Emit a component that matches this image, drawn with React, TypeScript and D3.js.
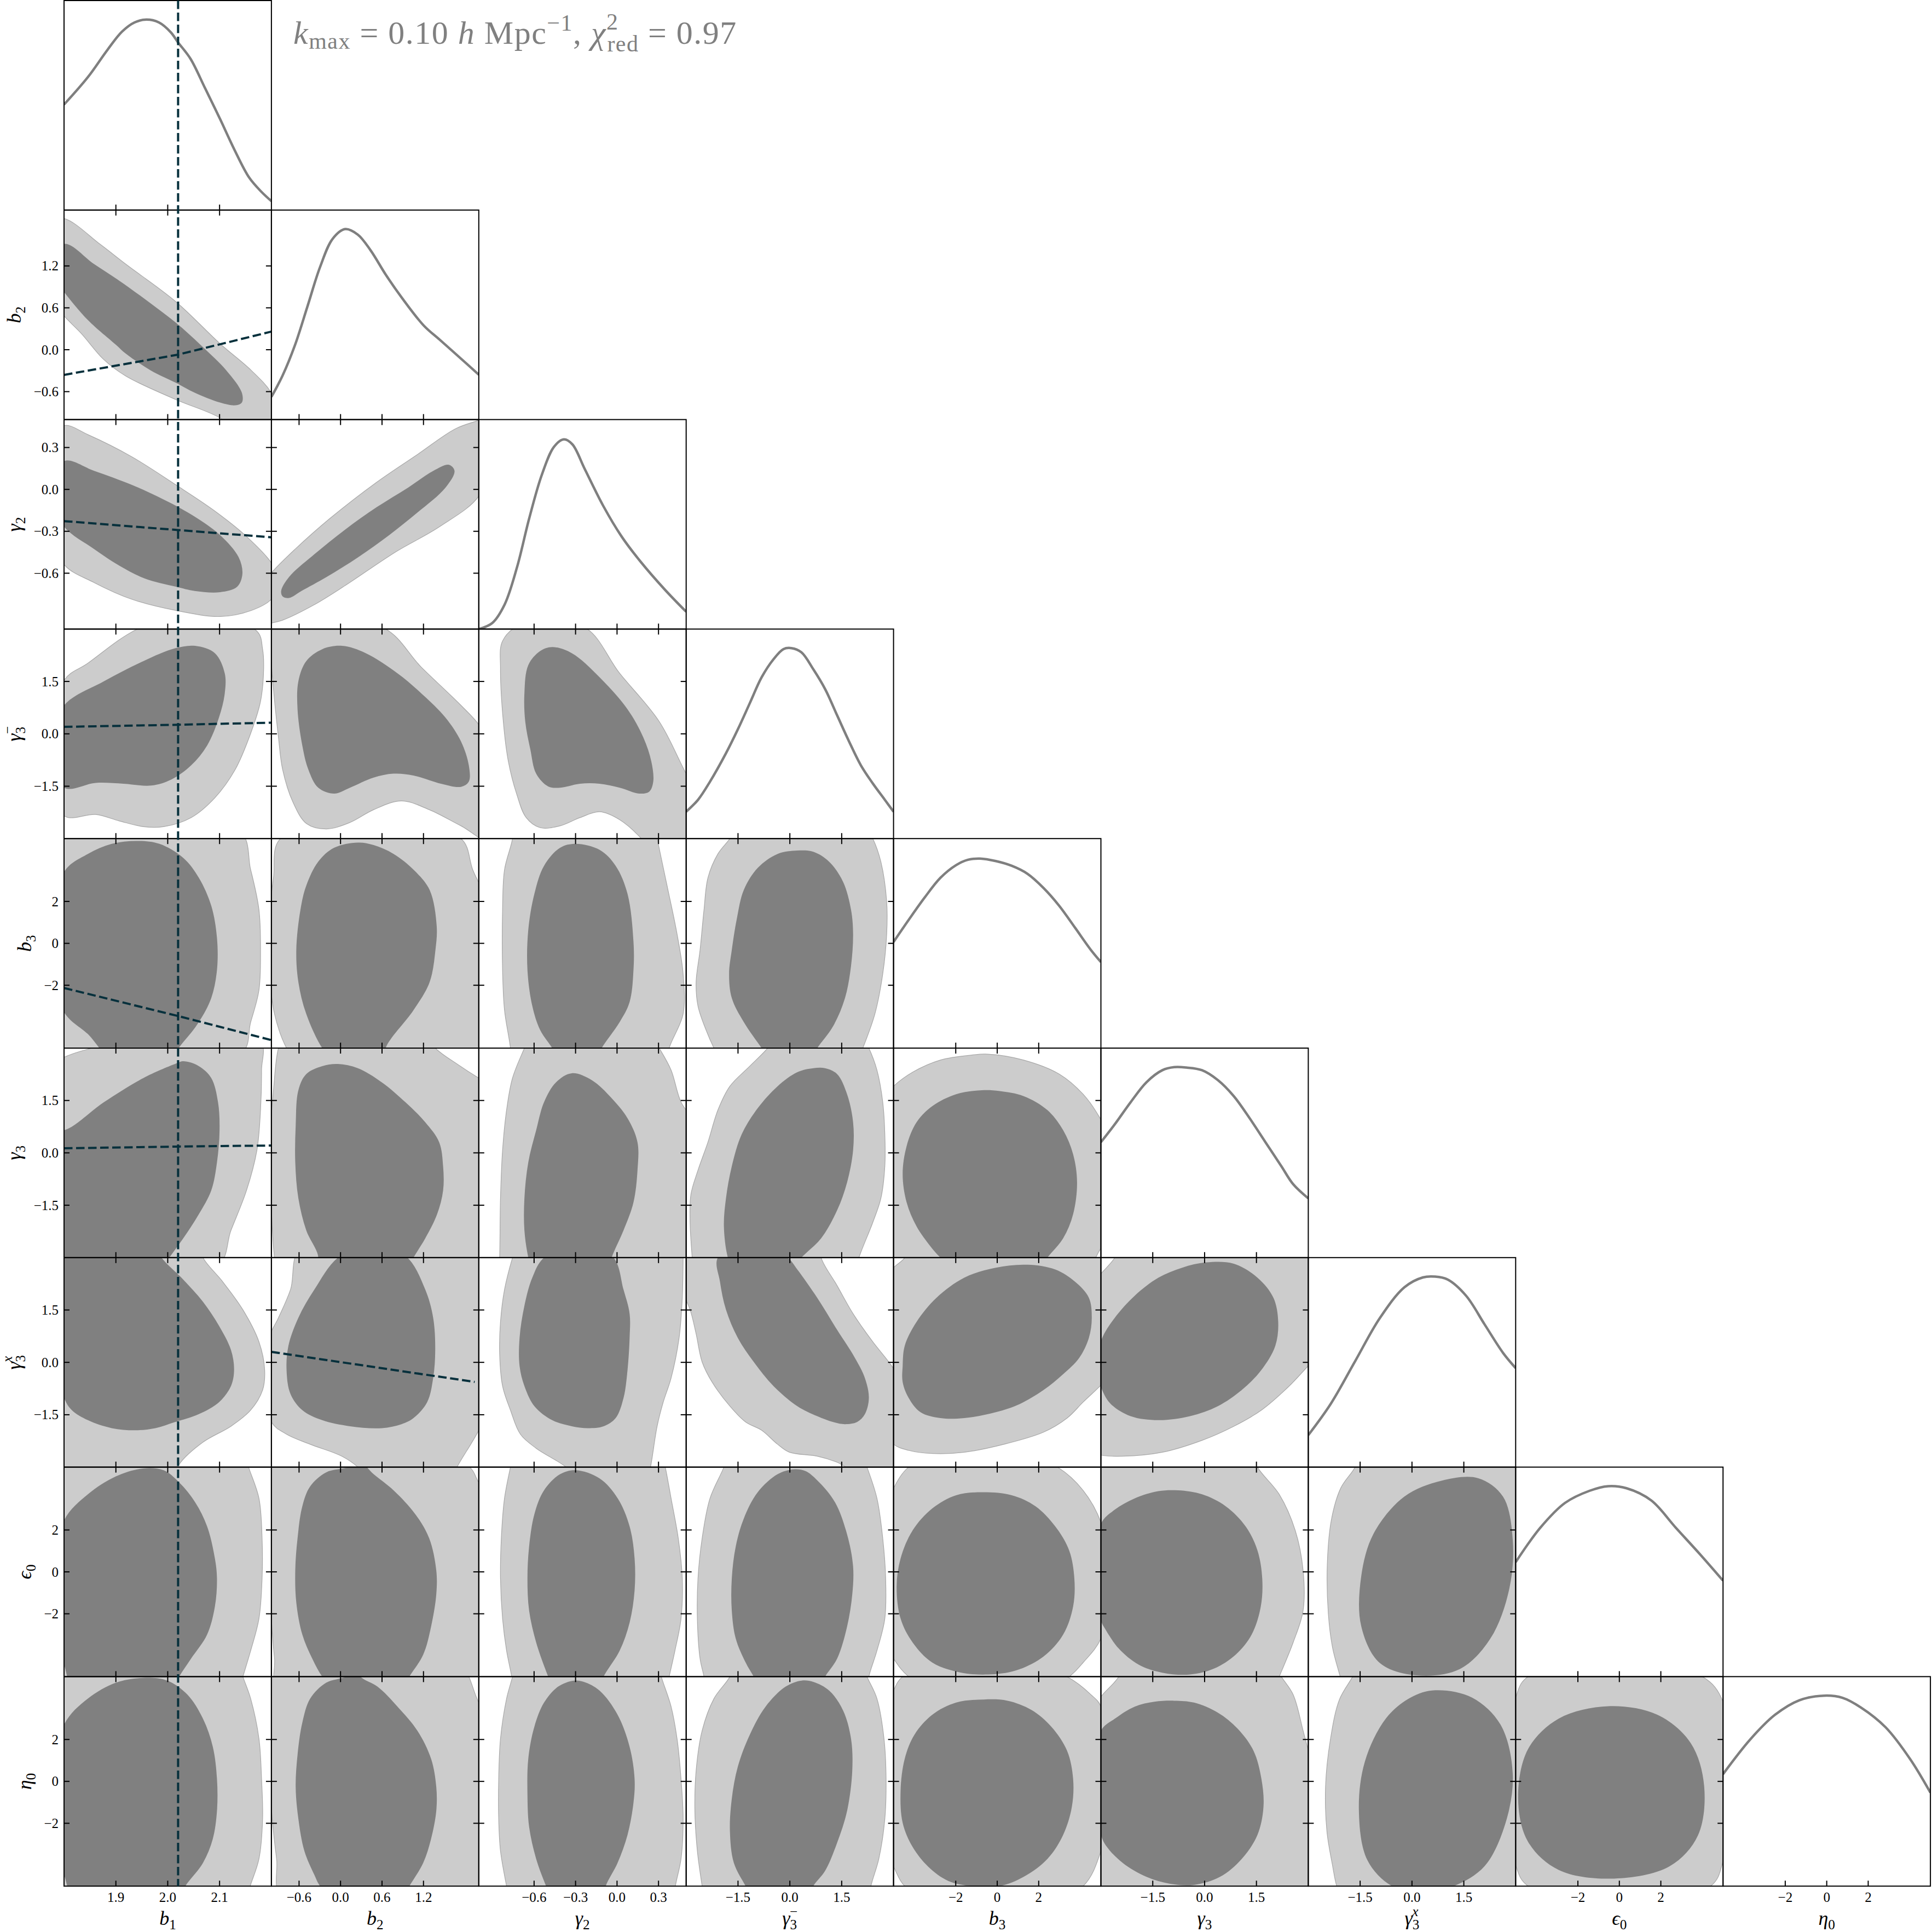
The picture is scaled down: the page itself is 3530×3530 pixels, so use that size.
import React from "react";
import * as d3 from "d3";

// ---------------- parameters / axes ----------------
const PARAM_KEYS = ["b1", "b2", "g2", "g3m", "b3", "g3", "g3x", "e0", "eta0"];
const LABEL_MAIN = ["b", "b", "γ", "γ", "b", "γ", "γ", "ϵ", "η"];
const LABEL_SUB = ["1", "2", "2", "3", "3", "3", "3", "0", "0"];
const LABEL_SUP = ["", "", "", "−", "", "", "x", "", ""];
const DOMAINS: [number, number][] = [
  [1.8, 2.2], [-1, 2], [-1, 0.5], [-3, 3], [-5, 5], [-3, 3], [-3, 3], [-5, 5], [-5, 5],
];
const TICKS: number[][] = [
  [1.9, 2.0, 2.1], [-0.6, 0, 0.6, 1.2], [-0.6, -0.3, 0, 0.3], [-1.5, 0, 1.5], [-2, 0, 2],
  [-1.5, 0, 1.5], [-1.5, 0, 1.5], [-2, 0, 2], [-2, 0, 2],
];
const TICK_FORMATS = [".1f", ".1f", ".1f", ".1f", ".0f", ".1f", ".1f", ".0f", ".0f"];

// ---------------- 1D marginals: [value, relative density] ----------------
const PDF_B1 = [[1.8,0.554],[1.846,0.698],[1.884,0.842],[1.912,0.937],[1.936,0.985],[1.959,1.0],[1.983,0.985],[2.006,0.933],[2.02,0.88],[2.044,0.794],[2.072,0.64],[2.101,0.478],[2.129,0.315],[2.157,0.171],[2.181,0.095],[2.2,0.047]];
const PDF_B2 = [[-1,0.119],[-0.841,0.229],[-0.659,0.391],[-0.477,0.596],[-0.295,0.802],[-0.114,0.949],[0.068,1.0],[0.25,0.971],[0.432,0.89],[0.659,0.758],[0.886,0.64],[1.205,0.493],[1.432,0.42],[1.705,0.332],[2.0,0.236]];
const PDF_G2 = [[-1,0.0],[-0.902,0.032],[-0.813,0.129],[-0.724,0.323],[-0.635,0.582],[-0.545,0.808],[-0.456,0.957],[-0.385,0.996],[-0.323,0.97],[-0.234,0.841],[-0.1,0.647],[0.034,0.485],[0.168,0.356],[0.346,0.207],[0.5,0.091]];
const PDF_G3M = [[-3,0.141],[-2.655,0.204],[-2.31,0.299],[-1.851,0.447],[-1.506,0.573],[-1.161,0.71],[-0.816,0.847],[-0.471,0.942],[-0.184,0.995],[0.046,1.0],[0.333,0.978],[0.678,0.889],[1.023,0.784],[1.368,0.647],[1.713,0.51],[2.057,0.384],[2.402,0.289],[2.747,0.204],[3.0,0.141]];
const PDF_B3 = [[-5,0.557],[-4.27,0.673],[-3.51,0.789],[-2.74,0.894],[-1.98,0.961],[-1.41,0.989],[-0.83,0.995],[-0.07,0.982],[0.7,0.957],[1.46,0.915],[2.23,0.841],[2.99,0.747],[3.76,0.631],[4.52,0.515],[5,0.452]];
const PDF_G3 = [[-3,0.606],[-2.598,0.7],[-2.14,0.816],[-1.681,0.921],[-1.222,0.984],[-0.878,1.0],[-0.533,0.998],[-0.075,0.984],[0.384,0.932],[0.843,0.848],[1.302,0.732],[1.761,0.606],[2.22,0.48],[2.564,0.385],[3.0,0.311]];
const PDF_G3X = [[-3,0.168],[-2.358,0.33],[-1.645,0.556],[-0.932,0.782],[-0.219,0.944],[0.316,0.996],[0.672,1.0],[1.029,0.985],[1.564,0.9],[2.099,0.75],[2.634,0.6],[3.0,0.52]];
const PDF_E0 = [[-5,0.601],[-3.81,0.782],[-2.62,0.912],[-1.43,0.976],[-0.54,1.0],[0.35,0.989],[1.54,0.925],[2.72,0.782],[3.91,0.64],[5,0.504]];
const PDF_ETA0 = [[-5,0.588],[-3.69,0.77],[-2.5,0.899],[-1.32,0.976],[-0.13,1.0],[0.76,0.989],[1.65,0.938],[2.84,0.834],[4.03,0.666],[5,0.491]];
const PDFS = [PDF_B1, PDF_B2, PDF_G2, PDF_G3M, PDF_B3, PDF_G3, PDF_G3X, PDF_E0, PDF_ETA0];

// ---------------- 2D credible regions: [x, y] in parameter units ----------------
const C_B2_B1_OUT = [[1.8,1.88],[1.87,1.508],[1.919,1.226],[2.016,0.686],[2.101,0.086],[2.161,-0.295],[2.2,-0.616],[2.232,-1.15],[2.16,-1.3],[2.101,-0.976],[2.016,-0.715],[1.919,-0.376],[1.876,-0.136],[1.834,0.227],[1.8,0.485],[1.76,0.86],[1.76,1.85]];
const C_B2_B1_IN = [[1.8,1.514],[1.858,1.226],[1.907,0.986],[1.967,0.665],[2.016,0.386],[2.064,0.065],[2.113,-0.295],[2.143,-0.616],[2.143,-0.757],[2.131,-0.796],[2.101,-0.757],[2.052,-0.616],[2.016,-0.475],[1.967,-0.295],[1.919,-0.055],[1.901,0.065],[1.846,0.425],[1.8,0.827],[1.768,1.16]];
const C_G2_B1_OUT = [[1.8,0.458],[1.846,0.392],[1.931,0.233],[2.016,0.032],[2.088,-0.147],[2.149,-0.327],[2.2,-0.526],[2.216,-0.655],[2.2,-0.786],[2.161,-0.867],[2.101,-0.91],[2.016,-0.867],[1.931,-0.787],[1.858,-0.667],[1.8,-0.538],[1.768,-0.25],[1.768,0.35]];
const C_G2_B1_IN = [[1.8,0.203],[1.858,0.133],[1.931,0.032],[1.979,-0.048],[2.04,-0.168],[2.101,-0.327],[2.137,-0.487],[2.144,-0.607],[2.134,-0.697],[2.101,-0.736],[2.052,-0.727],[2.016,-0.697],[1.955,-0.637],[1.907,-0.547],[1.858,-0.427],[1.8,-0.267],[1.768,-0.025]];
const C_G2_B2_OUT = [[-1,-0.597],[-0.655,-0.427],[-0.154,-0.208],[0.524,0.052],[1.115,0.251],[1.658,0.433],[2.0,0.496],[2.15,0.53],[2.15,0.2],[2.0,-0.048],[1.433,-0.267],[0.8,-0.447],[0.071,-0.687],[-0.382,-0.826],[-0.838,-0.936],[-1,-0.957],[-1.15,-0.97],[-1.15,-0.7]];
const C_G2_B2_IN = [[-0.859,-0.727],[-0.745,-0.627],[-0.382,-0.466],[0.071,-0.286],[0.524,-0.127],[0.98,0.014],[1.343,0.133],[1.568,0.176],[1.649,0.133],[1.52,0.014],[1.112,-0.166],[0.704,-0.327],[0.251,-0.487],[-0.202,-0.627],[-0.565,-0.727],[-0.745,-0.777],[-0.838,-0.766]];
const C_G3M_B1_OUT = [[1.8,1.53],[1.846,2.022],[1.938,2.976],[2.04,3.48],[2.172,2.94],[2.183,2.424],[2.185,1.848],[2.179,0.93],[2.16,0.012],[2.13,-1.026],[2.091,-1.83],[2.045,-2.4],[1.992,-2.658],[1.953,-2.658],[1.907,-2.496],[1.861,-2.31],[1.8,-2.346],[1.768,-0.6]];
const C_G3M_B1_IN = [[1.8,0.816],[1.877,1.506],[1.953,2.082],[2.014,2.448],[2.053,2.52],[2.091,2.31],[2.11,1.734],[2.11,1.158],[2.099,0.474],[2.076,-0.336],[2.045,-0.906],[2.007,-1.308],[1.968,-1.482],[1.915,-1.428],[1.861,-1.404],[1.8,-1.542],[1.768,-0.36]];
const C_G3M_B2_OUT = [[-0.982,3.228],[0.596,3.06],[1.169,1.908],[1.742,0.816],[2.0,0.264],[2.201,-0.45],[2.201,-3.09],[1.742,-2.634],[1.283,-2.172],[0.881,-1.92],[0.479,-2.172],[0.137,-2.538],[-0.202,-2.724],[-0.49,-2.574],[-0.691,-1.944],[-0.838,-1.02],[-0.898,-0.102],[-0.97,1.278],[-1.012,2.538]];
const C_G3M_B2_IN = [[-0.61,1.506],[-0.496,2.082],[-0.265,2.424],[0.023,2.52],[0.365,2.31],[0.824,1.734],[1.169,1.158],[1.514,0.474],[1.742,-0.216],[1.856,-0.906],[1.856,-1.368],[1.742,-1.518],[1.454,-1.428],[1.055,-1.194],[0.767,-1.14],[0.479,-1.254],[0.137,-1.542],[-0.094,-1.71],[-0.322,-1.542],[-0.466,-1.02],[-0.553,-0.336],[-0.622,0.702]];
const C_G3M_G2_OUT = [[-0.828,2.658],[-0.699,3.114],[-0.24,3.06],[0.019,1.734],[0.305,0.354],[0.5,-1.14],[0.65,-2.172],[0.305,-3.666],[0.176,-3.0],[0.019,-2.46],[-0.126,-2.232],[-0.268,-2.4],[-0.412,-2.634],[-0.556,-2.688],[-0.657,-2.4],[-0.727,-1.71],[-0.786,-0.792],[-0.82,0.24],[-0.843,1.848]];
const C_G3M_G2_IN = [[-0.67,1.158],[-0.642,1.968],[-0.556,2.37],[-0.469,2.484],[-0.327,2.31],[-0.126,1.62],[0.076,0.702],[0.19,-0.102],[0.248,-0.792],[0.262,-1.368],[0.233,-1.656],[0.161,-1.71],[0.019,-1.542],[-0.126,-1.428],[-0.268,-1.428],[-0.412,-1.542],[-0.498,-1.506],[-0.585,-1.14],[-0.627,-0.45],[-0.664,0.354]];
const C_B3_B1_OUT = [[1.72,6.3],[2.137,5.42],[2.16,3.51],[2.176,1.6],[2.179,-0.32],[2.176,-2.23],[2.16,-3.76],[2.141,-5.29],[1.72,-6.3],[1.66,0]];
const C_B3_B1_IN = [[1.8,3.41],[1.846,4.27],[1.892,4.75],[1.942,4.89],[1.984,4.75],[2.03,4.08],[2.06,3.13],[2.084,1.79],[2.095,0.26],[2.095,-1.27],[2.084,-2.61],[2.06,-3.76],[2.03,-4.71],[1.999,-5.48],[1.892,-5.48],[1.846,-4.33],[1.8,-3.28],[1.769,-0.32]];
const C_B3_B2_OUT = [[-0.868,5.0],[-0.97,3.13],[-1.03,1.21],[-1.03,-1.27],[-0.955,-3.37],[-0.781,-5.0],[-0.553,-6.05],[1.742,-6.05],[2.087,-4.52],[2.144,1.6],[1.913,3.51],[1.742,5.0],[0.584,5.8]];
const C_B3_B2_IN = [[0.251,4.81],[-0.094,4.56],[-0.322,3.9],[-0.496,2.75],[-0.58,1.6],[-0.64,-0.32],[-0.61,-1.85],[-0.496,-3.37],[-0.265,-5.0],[-0.1,-5.6],[0.65,-5.6],[0.653,-5.0],[1.058,-3.18],[1.289,-1.85],[1.373,-0.32],[1.391,0.83],[1.289,2.55],[1.058,3.51],[0.767,4.27],[0.479,4.69]];
const C_B3_G2_OUT = [[-0.756,5.0],[-0.814,3.51],[-0.828,1.6],[-0.828,-1.27],[-0.814,-3.18],[-0.771,-5.0],[-0.76,-6.0],[0.35,-6.0],[0.377,-5.0],[0.478,-3.37],[0.478,-1.46],[0.434,0.45],[0.362,2.75],[0.29,5.0],[0.26,6.0],[-0.745,6.0]];
const C_B3_G2_IN = [[-0.298,4.75],[-0.412,4.56],[-0.528,3.7],[-0.598,2.36],[-0.642,0.64],[-0.648,-1.27],[-0.613,-2.99],[-0.556,-4.14],[-0.469,-5.0],[-0.43,-5.5],[-0.145,-5.5],[-0.111,-5.0],[0.019,-3.76],[0.091,-2.8],[0.119,-1.27],[0.119,0.07],[0.076,2.36],[-0.01,3.7],[-0.126,4.46]];
const C_B3_G3M_OUT = [[-1.506,5.61],[-1.734,5.0],[-2.082,4.27],[-2.37,3.13],[-2.484,1.6],[-2.598,-0.32],[-2.712,-1.85],[-2.658,-2.99],[-2.424,-4.14],[-2.196,-5.0],[-1.968,-5.67],[1.944,-5.67],[2.112,-5.0],[2.46,-3.37],[2.688,-1.46],[2.802,0.45],[2.802,1.98],[2.634,3.89],[2.4,5.0],[2.172,5.61]];
const C_B3_G3M_IN = [[0.216,4.43],[-0.354,4.27],[-0.93,3.6],[-1.332,2.55],[-1.53,1.21],[-1.68,-0.32],[-1.758,-1.46],[-1.68,-2.61],[-1.332,-3.76],[-0.816,-5.0],[-0.6,-5.5],[0.6,-5.5],[0.792,-5.0],[1.254,-3.95],[1.596,-2.61],[1.77,-1.08],[1.83,0.45],[1.77,1.6],[1.542,2.93],[1.14,3.89],[0.678,4.37]];
const C_G3_B1_OUT = [[1.8,2.736],[1.854,3.0],[2.03,3.516],[2.179,3.174],[2.181,2.37],[2.179,1.224],[2.172,0.072],[2.152,-1.074],[2.122,-2.22],[2.095,-3.252],[1.762,-3.366],[1.762,2.37]];
const C_G3_B1_IN = [[1.8,0.648],[1.877,1.452],[1.953,2.142],[2.014,2.544],[2.03,2.622],[2.06,2.484],[2.084,2.142],[2.097,1.452],[2.1,0.648],[2.095,-0.27],[2.084,-1.074],[2.06,-1.758],[2.03,-2.448],[2.003,-3.0],[1.98,-3.48],[1.769,-3.48],[1.769,0.72]];
const C_G3_B2_OUT = [[-0.898,3.0],[-0.97,1.794],[-1.03,0.072],[-1.0,-1.644],[-0.955,-3.0],[-0.898,-3.594],[2.315,-3.594],[2.315,1.794],[2.0,2.142],[1.685,2.544],[1.37,3.0],[1.169,3.516],[-0.781,3.516]];
const C_G3_B2_IN = [[-0.61,1.794],[-0.496,2.256],[-0.265,2.484],[-0.037,2.544],[0.251,2.424],[0.596,2.022],[0.938,1.452],[1.226,0.876],[1.427,0.306],[1.484,-0.384],[1.484,-1.074],[1.397,-1.758],[1.226,-2.448],[1.055,-3.0],[0.92,-3.48],[-0.4,-3.48],[-0.322,-3.0],[-0.496,-2.22],[-0.61,-1.302],[-0.655,-0.27],[-0.649,0.762]];
const C_G3_G2_OUT = [[-0.613,3.516],[-0.67,3.0],[-0.756,2.142],[-0.799,1.224],[-0.828,0.072],[-0.843,-1.302],[-0.849,-3.0],[-0.856,-3.594],[0.649,-3.594],[0.592,0.648],[0.463,1.452],[0.391,2.37],[0.305,3.0],[0.22,3.516]];
const C_G3_G2_IN = [[-0.327,2.28],[-0.441,2.022],[-0.528,1.452],[-0.585,0.648],[-0.642,-0.27],[-0.67,-1.302],[-0.67,-2.22],[-0.642,-3.0],[-0.61,-3.48],[-0.07,-3.48],[-0.039,-3.0],[0.047,-2.22],[0.119,-1.416],[0.148,-0.498],[0.148,0.306],[0.076,0.99],[-0.039,1.566],[-0.183,2.082]];
const C_G3_G3M_OUT = [[-0.354,3.402],[-0.642,3.0],[-1.158,2.484],[-1.734,1.908],[-2.082,1.224],[-2.37,0.306],[-2.658,-0.498],[-2.862,-1.188],[-2.886,-1.992],[-2.826,-3.0],[-2.772,-3.594],[1.83,-3.594],[1.998,-3.0],[2.4,-1.992],[2.634,-1.302],[2.748,-0.384],[2.748,0.534],[2.688,1.452],[2.52,2.37],[2.286,3.0],[2.058,3.402]];
const C_G3_G3M_IN = [[0.678,2.424],[0.216,2.31],[-0.354,1.908],[-0.93,1.278],[-1.392,0.534],[-1.68,-0.384],[-1.848,-1.302],[-1.908,-2.106],[-1.794,-3.0],[-1.62,-3.42],[0,-3.42],[0.336,-3.0],[0.906,-2.448],[1.368,-1.644],[1.656,-0.846],[1.83,0.072],[1.83,0.876],[1.656,1.68],[1.368,2.256],[1.02,2.424]];
const C_G3_B3_OUT = [[-5,1.908],[-4.08,2.31],[-2.74,2.658],[-1.21,2.802],[-0.45,2.826],[1.27,2.658],[2.99,2.256],[4.14,1.68],[4.9,1.05],[5.67,0.072],[5.67,-2.22],[5.0,-2.736],[4.33,-3.24],[-4.85,-3.366],[-5.42,-1.074],[-5.33,1.68]];
const C_G3_B3_IN = [[-0.74,1.794],[-1.98,1.68],[-3.13,1.338],[-3.89,0.876],[-4.37,0.192],[-4.56,-0.612],[-4.37,-1.416],[-3.89,-2.106],[-3.22,-2.676],[-2.74,-3.0],[-2.0,-3.36],[2.0,-3.36],[2.42,-3.0],[3.18,-2.448],[3.66,-1.758],[3.85,-0.846],[3.66,-0.042],[3.18,0.648],[2.42,1.224],[1.27,1.626],[0.12,1.77]];
const C_G3X_B1_OUT = [[2.068,3.0],[2.106,2.31],[2.145,1.506],[2.176,0.588],[2.187,-0.216],[2.183,-0.792],[2.16,-1.368],[2.122,-1.83],[2.068,-2.286],[2.022,-2.922],[2.007,-3.438],[1.762,-3.438],[1.762,3.462],[2.06,3.462]];
const C_G3X_B1_IN = [[1.988,3.0],[2.03,2.37],[2.068,1.734],[2.099,1.044],[2.122,0.354],[2.128,-0.216],[2.122,-0.678],[2.099,-1.14],[2.06,-1.482],[2.014,-1.71],[1.976,-1.884],[1.938,-1.944],[1.892,-1.884],[1.846,-1.656],[1.815,-1.368],[1.8,-1.02],[1.769,0.702],[1.769,3.462],[1.976,3.342]];
const C_G3X_B2_OUT = [[-0.553,3.342],[-0.724,2.082],[-0.898,1.278],[-1.039,0.702],[-1.126,-0.45],[-1.0,-1.71],[-0.781,-2.058],[-0.439,-2.346],[0.02,-2.688],[0.251,-3.0],[0.365,-3.264],[1.628,-3.264],[1.685,-3.0],[2.0,-1.944],[2.201,-1.02],[2.201,0.702],[2.09,3.342]];
const C_G3X_B2_IN = [[0.968,3.0],[1.226,2.082],[1.34,1.278],[1.37,0.354],[1.34,-0.45],[1.253,-1.14],[1.055,-1.596],[0.881,-1.77],[0.596,-1.884],[0.137,-1.83],[-0.265,-1.656],[-0.553,-1.368],[-0.724,-0.906],[-0.781,-0.216],[-0.754,0.474],[-0.61,1.278],[-0.379,2.082],[-0.037,3.0],[0.5,3.48]];
const C_G3X_G2_OUT = [[-0.727,3.342],[-0.756,3.0],[-0.814,2.082],[-0.843,1.158],[-0.849,0.24],[-0.828,-0.678],[-0.771,-1.368],[-0.699,-2.058],[-0.585,-2.46],[-0.369,-3.0],[-0.298,-3.324],[0.22,-3.324],[0.242,-3.0],[0.29,-1.83],[0.334,-1.14],[0.391,-0.45],[0.449,0.702],[0.472,1.848],[0.478,3.0],[0.478,3.342]];
const C_G3X_G2_IN = [[-0.528,3.0],[-0.613,2.424],[-0.67,1.62],[-0.705,0.702],[-0.705,-0.102],[-0.67,-0.678],[-0.598,-1.254],[-0.469,-1.656],[-0.327,-1.83],[-0.211,-1.884],[-0.097,-1.83],[-0.01,-1.596],[0.047,-1.02],[0.076,-0.216],[0.091,0.702],[0.091,1.392],[0.047,2.082],[-0.025,3.0],[-0.25,3.48]];
const C_G3X_G3M_OUT = [[-3.342,3.342],[0.906,3.342],[0.906,3.0],[1.368,2.196],[1.83,1.392],[2.4,0.588],[2.862,0.012],[3.09,-0.336],[3.438,-1.596],[3.204,-3.204],[1.944,-3.15],[1.368,-2.862],[0.792,-2.688],[-0.012,-2.574],[-0.354,-2.346],[-0.816,-1.944],[-1.278,-1.71],[-1.734,-1.254],[-2.25,-0.564],[-2.538,0.012],[-2.712,0.816],[-2.886,1.506],[-3.228,2.31]];
const C_G3X_G3M_IN = [[-2.082,3.0],[-2.022,2.31],[-1.848,1.506],[-1.506,0.702],[-1.044,0.012],[-0.474,-0.678],[0.216,-1.254],[0.792,-1.542],[1.254,-1.71],[1.596,-1.77],[1.944,-1.71],[2.172,-1.482],[2.286,-1.02],[2.172,-0.45],[1.884,0.126],[1.368,0.93],[0.792,1.848],[0.216,2.658],[-0.066,3.0],[-1.08,3.48]];
const C_G3X_B3_OUT = [[-5,2.712],[-4.46,3.0],[-4.27,3.342],[5.67,3.342],[5.67,-0.216],[5.0,-0.654],[4.14,-1.14],[3.37,-1.596],[2.23,-2.0],[0.32,-2.346],[-1.59,-2.574],[-3.13,-2.61],[-4.27,-2.52],[-5.0,-2.346],[-5.61,-1.83],[-5.52,2.31]];
const C_G3X_B3_IN = [[-4.56,-0.102],[-4.46,0.474],[-3.89,1.158],[-2.93,1.848],[-1.59,2.424],[-0.07,2.712],[1.46,2.796],[2.8,2.658],[3.75,2.31],[4.42,1.848],[4.56,1.278],[4.42,0.702],[3.95,0.126],[3.18,-0.336],[2.23,-0.792],[1.08,-1.194],[-0.07,-1.428],[-1.59,-1.596],[-2.74,-1.596],[-3.7,-1.428],[-4.27,-1.02],[-4.56,-0.564]];
const C_G3X_G3_OUT = [[-3,2.538],[-2.598,3.0],[-2.484,3.342],[3.366,3.342],[3.366,0.24],[3.0,-0.102],[2.448,-0.678],[1.644,-1.368],[0.846,-1.83],[-0.072,-2.232],[-1.224,-2.574],[-2.37,-2.688],[-3.0,-2.658],[-3.402,-2.52],[-3.402,2.082]];
const C_G3X_G3_IN = [[-2.964,0.702],[-2.598,1.278],[-2.022,1.908],[-1.338,2.424],[-0.648,2.712],[0.042,2.862],[0.846,2.826],[1.53,2.424],[1.992,1.848],[2.13,1.158],[2.046,0.474],[1.644,-0.216],[1.074,-0.792],[0.384,-1.254],[-0.42,-1.542],[-1.338,-1.656],[-2.142,-1.542],[-2.712,-1.194],[-2.964,-0.792],[-3.174,-0.048]];
const C_E0_B1_OUT = [[1.72,6.3],[2.149,5.61],[2.156,5.0],[2.176,3.51],[2.182,1.6],[2.182,-0.32],[2.176,-2.23],[2.16,-3.76],[2.145,-5.0],[2.137,-5.67],[1.72,-6.3],[1.66,0]];
const C_E0_B1_IN = [[1.8,2.46],[1.846,3.7],[1.9,4.56],[1.953,4.94],[1.992,4.85],[2.022,4.27],[2.053,3.32],[2.076,2.17],[2.091,0.64],[2.095,-0.32],[2.091,-1.65],[2.076,-2.99],[2.045,-4.14],[2.022,-5.0],[2.007,-5.67],[1.823,-5.67],[1.8,-4.43],[1.769,-0.89]];
const C_E0_B2_OUT = [[-1.03,5.8],[1.19,5.8],[1.868,5.0],[2.0,4.27],[2.201,3.51],[2.201,-5.67],[-0.898,-5.67],[-0.955,-4.14],[-1.0,-2.23],[-1.03,1.6],[-1.03,3.89]];
const C_E0_B2_IN = [[0.107,5.0],[-0.208,4.75],[-0.439,4.08],[-0.553,3.13],[-0.622,1.6],[-0.655,0.07],[-0.64,-1.46],[-0.553,-2.99],[-0.409,-4.14],[-0.265,-5.0],[-0.1,-5.6],[0.89,-5.6],[0.995,-5.0],[1.196,-3.95],[1.31,-2.61],[1.385,-1.08],[1.385,0.07],[1.283,1.6],[1.082,2.75],[0.767,3.89],[0.479,4.66],[0.26,5.3]];
const C_E0_G2_OUT = [[-0.771,5.0],[-0.814,3.51],[-0.837,1.6],[-0.843,-0.32],[-0.828,-2.23],[-0.799,-3.76],[-0.762,-5.0],[-0.745,-5.8],[0.35,-5.8],[0.377,-5.0],[0.419,-3.76],[0.463,-2.23],[0.472,-0.32],[0.443,1.6],[0.391,3.51],[0.349,5.0],[0.32,5.8],[-0.745,5.8]];
const C_E0_G2_IN = [[-0.298,4.85],[-0.412,4.66],[-0.528,3.89],[-0.598,2.75],[-0.636,1.21],[-0.648,-0.32],[-0.636,-1.85],[-0.585,-3.37],[-0.498,-5.0],[-0.46,-5.6],[-0.13,-5.6],[-0.097,-5.0],[0.019,-3.76],[0.091,-2.42],[0.127,-0.89],[0.127,0.64],[0.091,2.17],[0.005,3.51],[-0.126,4.46]];
const C_E0_G3M_OUT = [[-1.908,5.0],[-2.31,3.51],[-2.538,1.6],[-2.658,-0.32],[-2.676,-2.23],[-2.598,-4.14],[-2.484,-5.0],[-2.4,-5.8],[2.22,-5.8],[2.286,-5.0],[2.52,-3.76],[2.748,-2.23],[2.772,-0.32],[2.688,1.6],[2.52,3.51],[2.232,5.0],[2.04,5.8],[-1.74,5.8]];
const C_E0_G3M_IN = [[0.102,4.89],[-0.354,4.66],[-0.93,3.8],[-1.332,2.55],[-1.566,1.21],[-1.68,-0.32],[-1.68,-1.85],[-1.566,-3.18],[-1.278,-4.33],[-1.044,-5.0],[-0.84,-5.6],[0.84,-5.6],[1.02,-5.0],[1.368,-4.14],[1.656,-2.61],[1.806,-1.08],[1.83,0.26],[1.656,1.79],[1.308,3.32],[0.792,4.37],[0.45,4.81]];
const C_E0_B3_OUT = [[-4.27,5.0],[-5.0,3.99],[-5.52,2.55],[-5.61,-0.32],[-5.52,-3.18],[-5.0,-4.14],[-4.27,-5.0],[-2.55,-5.86],[1.85,-5.86],[3.47,-5.0],[4.14,-4.33],[5.0,-3.18],[5.48,-0.32],[5.0,2.36],[4.14,3.89],[2.9,5.0],[1.27,5.61],[-2.86,5.61]];
const C_E0_B3_IN = [[-0.74,3.8],[-1.98,3.66],[-3.13,3.03],[-4.08,1.98],[-4.66,0.64],[-4.85,-0.7],[-4.66,-2.23],[-4.08,-3.37],[-3.13,-4.33],[-1.79,-4.8],[-0.45,-4.9],[0.89,-4.71],[2.23,-4.04],[3.18,-2.99],[3.66,-1.65],[3.72,-0.32],[3.47,1.02],[2.8,2.17],[1.85,3.13],[0.7,3.66]];
const C_E0_G3_OUT = [[-3.516,5.8],[1.416,5.61],[1.53,5.0],[2.16,3.7],[2.622,1.98],[2.85,0.07],[2.85,-1.85],[2.562,-3.37],[2.16,-5.0],[1.992,-5.67],[-3.516,-5.67]];
const C_E0_G3_IN = [[-3.0,2.3],[-2.598,2.97],[-2.022,3.51],[-1.338,3.85],[-0.762,3.89],[-0.072,3.7],[0.612,3.13],[1.188,2.17],[1.53,1.02],[1.668,-0.32],[1.626,-1.65],[1.362,-2.99],[0.9,-3.95],[0.27,-4.62],[-0.42,-4.9],[-1.224,-4.81],[-1.908,-4.43],[-2.484,-3.66],[-2.886,-2.7],[-3.0,-2.32],[-3.174,0.08]];
const C_E0_G3X_OUT = [[-1.644,5.0],[-2.06,4.0],[-2.33,2.5],[-2.45,0.36],[-2.42,-2.0],[-2.3,-3.6],[-2.076,-5.0],[-1.9,-6.0],[3.6,-6.0],[3.6,6.0],[-1.4,6.0]];
const C_E0_G3X_IN = [[1.92,4.47],[2.634,3.59],[2.916,1.53],[2.814,-0.82],[2.274,-3.17],[1.386,-4.64],[0.138,-4.94],[-0.93,-4.35],[-1.47,-2.58],[-1.47,-0.23],[-1.11,1.83],[-0.222,3.59],[0.852,4.35]];
const C_ETA_B1_OUT = [[1.72,6.3],[2.137,5.67],[2.145,5.0],[2.16,3.95],[2.176,2.04],[2.181,0.12],[2.183,-1.79],[2.176,-3.7],[2.159,-5.0],[2.152,-5.61],[1.72,-6.3],[1.66,0]];
const C_ETA_B1_IN = [[1.8,2.71],[1.846,3.95],[1.9,4.71],[1.953,4.94],[1.999,4.81],[2.038,4.14],[2.068,2.99],[2.087,1.65],[2.095,0.12],[2.095,-1.41],[2.087,-2.74],[2.068,-3.89],[2.038,-4.85],[2.014,-5.61],[1.823,-5.61],[1.8,-4.46],[1.769,-0.83]];
const C_ETA_B2_OUT = [[-1.012,5.67],[1.742,5.67],[1.856,5.0],[2.0,3.76],[2.201,2.8],[2.201,-5.61],[-0.838,-5.61],[-0.925,-3.7],[-0.988,-1.79],[-1.057,2.04],[-1.039,4.9]];
const C_ETA_B2_IN = [[0.077,5.0],[-0.208,4.71],[-0.439,3.95],[-0.553,2.8],[-0.622,1.27],[-0.649,-0.26],[-0.61,-1.79],[-0.523,-3.32],[-0.379,-4.46],[-0.295,-5.0],[-0.1,-5.6],[0.89,-5.6],[0.995,-5.0],[1.196,-3.89],[1.31,-2.74],[1.385,-1.41],[1.385,-0.26],[1.31,1.08],[1.112,2.42],[0.824,3.57],[0.536,4.52],[0.308,4.94],[0.2,5.3]];
const C_ETA_G2_OUT = [[-0.756,5.0],[-0.799,3.95],[-0.843,2.04],[-0.856,0.12],[-0.856,-1.79],[-0.843,-3.32],[-0.799,-5.0],[-0.775,-5.8],[0.41,-5.8],[0.422,-5.0],[0.463,-3.7],[0.478,-1.79],[0.463,0.12],[0.434,2.04],[0.391,3.57],[0.32,5.0],[0.29,5.8],[-0.73,5.8]];
const C_ETA_G2_IN = [[-0.312,4.81],[-0.427,4.52],[-0.528,3.76],[-0.598,2.61],[-0.642,1.08],[-0.648,-0.64],[-0.636,-2.17],[-0.585,-3.7],[-0.513,-5.0],[-0.475,-5.6],[-0.1,-5.6],[-0.082,-5.0],[0.004,-3.89],[0.076,-2.55],[0.119,-1.02],[0.127,0.12],[0.091,1.65],[0.004,3.18],[-0.126,4.33],[-0.24,4.75]];
const C_ETA_G3M_OUT = [[-1.734,5.0],[-2.196,3.95],[-2.538,2.42],[-2.712,0.51],[-2.748,-1.41],[-2.676,-3.32],[-2.538,-5.0],[-2.46,-5.8],[2.28,-5.8],[2.346,-5.0],[2.574,-3.7],[2.748,-1.79],[2.784,0.12],[2.724,2.04],[2.52,3.95],[2.232,5.0],[2.04,5.8],[-1.56,5.8]];
const C_ETA_G3M_IN = [[0.336,4.81],[-0.126,4.52],[-0.702,3.57],[-1.158,2.23],[-1.506,0.7],[-1.68,-0.83],[-1.734,-2.36],[-1.62,-3.89],[-1.278,-5.0],[-1.08,-5.6],[0.54,-5.6],[0.678,-5.0],[1.02,-4.27],[1.368,-2.93],[1.656,-1.41],[1.806,0.51],[1.77,2.04],[1.542,3.38],[1.14,4.33],[0.678,4.75]];
const C_ETA_B3_OUT = [[-4.56,5.0],[-5.0,4.33],[-5.52,2.55],[-5.61,-0.32],[-5.52,-3.18],[-5.0,-4.08],[-4.46,-5.0],[-2.7,-5.9],[2.2,-5.9],[4.14,-5.0],[5.0,-3.32],[5.48,-0.32],[5.0,3.57],[4.52,4.14],[3.36,5.0],[1.5,5.6],[-3.0,5.6]];
const C_ETA_B3_IN = [[-0.64,3.91],[-1.98,3.76],[-3.13,3.18],[-3.99,2.23],[-4.46,1.08],[-4.66,-0.45],[-4.56,-1.98],[-4.08,-3.13],[-3.32,-4.08],[-2.36,-4.75],[-1.21,-5.0],[0.12,-5.0],[1.27,-4.56],[2.42,-3.7],[3.18,-2.55],[3.6,-1.21],[3.66,0.12],[3.37,1.46],[2.61,2.61],[1.65,3.41],[0.5,3.85]];
const C_ETA_G3_OUT = [[-3.0,4.04],[-2.484,5.0],[-2.37,5.67],[1.992,5.67],[2.22,5.0],[2.562,4.14],[2.85,2.42],[3.078,0.91],[3.366,-1.77],[3.366,-5.61],[-3.402,-5.61],[-3.402,2.99]];
const C_ETA_G3_IN = [[-3.0,2.42],[-2.598,2.99],[-2.022,3.57],[-1.452,3.8],[-0.876,3.85],[-0.306,3.76],[0.384,3.28],[0.96,2.51],[1.416,1.46],[1.644,0.12],[1.704,-1.21],[1.53,-2.55],[1.074,-3.7],[0.444,-4.56],[-0.306,-4.94],[-0.99,-4.89],[-1.68,-4.56],[-2.37,-3.89],[-2.826,-3.13],[-3.0,-2.55],[-3.228,-0.07]];
const C_ETA_G3X_OUT = [[-1.716,5.0],[-2.1,3.9],[-2.36,2.0],[-2.5,-0.23],[-2.46,-2.4],[-2.3,-4.0],[-2.178,-5.0],[-1.95,-6.0],[3.6,-6.0],[3.6,6.0],[-1.4,6.0]];
const C_ETA_G3X_IN = [[0.672,4.35],[1.74,4.0],[2.562,2.71],[2.916,0.36],[2.706,-1.99],[2.1,-4.05],[1.206,-5.0],[0.3,-5.3],[-0.576,-5.0],[-1.29,-3.76],[-1.536,-1.41],[-1.362,0.95],[-0.756,3.0],[-0.042,4.0]];
const C_ETA_E0_OUT = [[-4.4,5.0],[-5.0,4.0],[-5.5,0],[-5.0,-4.0],[-4.4,-5.0],[0,-6.0],[4.4,-5.0],[5.0,-3.8],[5.3,0],[5.0,3.8],[4.0,5.0],[0,5.6]];
const C_ETA_E0_IN = [[-4.88,-0.82],[-4.41,1.53],[-2.92,3.0],[-0.54,3.59],[1.83,3.18],[3.44,1.83],[4.09,-0.23],[3.79,-2.58],[2.43,-4.05],[-0.25,-4.64],[-2.92,-4.23],[-4.41,-2.87]];

// row index, column index, outer (95%) and inner (68%) regions
const PANELS = [
  { r: 1, c: 0, outer: C_B2_B1_OUT, inner: C_B2_B1_IN },
  { r: 2, c: 0, outer: C_G2_B1_OUT, inner: C_G2_B1_IN },
  { r: 2, c: 1, outer: C_G2_B2_OUT, inner: C_G2_B2_IN },
  { r: 3, c: 0, outer: C_G3M_B1_OUT, inner: C_G3M_B1_IN },
  { r: 3, c: 1, outer: C_G3M_B2_OUT, inner: C_G3M_B2_IN },
  { r: 3, c: 2, outer: C_G3M_G2_OUT, inner: C_G3M_G2_IN },
  { r: 4, c: 0, outer: C_B3_B1_OUT, inner: C_B3_B1_IN },
  { r: 4, c: 1, outer: C_B3_B2_OUT, inner: C_B3_B2_IN },
  { r: 4, c: 2, outer: C_B3_G2_OUT, inner: C_B3_G2_IN },
  { r: 4, c: 3, outer: C_B3_G3M_OUT, inner: C_B3_G3M_IN },
  { r: 5, c: 0, outer: C_G3_B1_OUT, inner: C_G3_B1_IN },
  { r: 5, c: 1, outer: C_G3_B2_OUT, inner: C_G3_B2_IN },
  { r: 5, c: 2, outer: C_G3_G2_OUT, inner: C_G3_G2_IN },
  { r: 5, c: 3, outer: C_G3_G3M_OUT, inner: C_G3_G3M_IN },
  { r: 5, c: 4, outer: C_G3_B3_OUT, inner: C_G3_B3_IN },
  { r: 6, c: 0, outer: C_G3X_B1_OUT, inner: C_G3X_B1_IN },
  { r: 6, c: 1, outer: C_G3X_B2_OUT, inner: C_G3X_B2_IN },
  { r: 6, c: 2, outer: C_G3X_G2_OUT, inner: C_G3X_G2_IN },
  { r: 6, c: 3, outer: C_G3X_G3M_OUT, inner: C_G3X_G3M_IN },
  { r: 6, c: 4, outer: C_G3X_B3_OUT, inner: C_G3X_B3_IN },
  { r: 6, c: 5, outer: C_G3X_G3_OUT, inner: C_G3X_G3_IN },
  { r: 7, c: 0, outer: C_E0_B1_OUT, inner: C_E0_B1_IN },
  { r: 7, c: 1, outer: C_E0_B2_OUT, inner: C_E0_B2_IN },
  { r: 7, c: 2, outer: C_E0_G2_OUT, inner: C_E0_G2_IN },
  { r: 7, c: 3, outer: C_E0_G3M_OUT, inner: C_E0_G3M_IN },
  { r: 7, c: 4, outer: C_E0_B3_OUT, inner: C_E0_B3_IN },
  { r: 7, c: 5, outer: C_E0_G3_OUT, inner: C_E0_G3_IN },
  { r: 7, c: 6, outer: C_E0_G3X_OUT, inner: C_E0_G3X_IN },
  { r: 8, c: 0, outer: C_ETA_B1_OUT, inner: C_ETA_B1_IN },
  { r: 8, c: 1, outer: C_ETA_B2_OUT, inner: C_ETA_B2_IN },
  { r: 8, c: 2, outer: C_ETA_G2_OUT, inner: C_ETA_G2_IN },
  { r: 8, c: 3, outer: C_ETA_G3M_OUT, inner: C_ETA_G3M_IN },
  { r: 8, c: 4, outer: C_ETA_B3_OUT, inner: C_ETA_B3_IN },
  { r: 8, c: 5, outer: C_ETA_G3_OUT, inner: C_ETA_G3_IN },
  { r: 8, c: 6, outer: C_ETA_G3X_OUT, inner: C_ETA_G3X_IN },
  { r: 8, c: 7, outer: C_ETA_E0_OUT, inner: C_ETA_E0_IN },
];

// ---------------- fiducial (dashed) relations ----------------
const TRUTH_B1 = 2.02;
const FID_B2_B1 = [[1.8,-0.36],[2.02,-0.07],[2.2,0.26]];
const FID_G2_B1 = [[1.8,-0.227],[2.02,-0.291],[2.2,-0.343]];
const FID_G3M_B1 = [[1.8,0.2],[2.02,0.26],[2.2,0.32]];
const FID_B3_B1 = [[1.8,-2.13],[2.02,-3.47],[2.2,-4.62]];
const FID_G3_B1 = [[1.8,0.13],[2.02,0.18],[2.2,0.21]];
const FID_G3X_B2 = [[-1,0.3],[1.94,-0.56]];
const FID_LINES = [
  { r: 1, c: 0, pts: FID_B2_B1 },
  { r: 2, c: 0, pts: FID_G2_B1 },
  { r: 3, c: 0, pts: FID_G3M_B1 },
  { r: 4, c: 0, pts: FID_B3_B1 },
  { r: 5, c: 0, pts: FID_G3_B1 },
  { r: 6, c: 1, pts: FID_G3X_B2 },
];

// ---------------- layout / style ----------------
const W = 3530, H = 3530;
const LEFT = 117, TOP = 1, CW = 378.9, CH = 382.8;
const N = PARAM_KEYS.length;
const BOTTOM = TOP + N * CH;
const FONT = "'Liberation Serif', 'DejaVu Serif', serif";
const TICK_FS = 25, LABEL_FS = 36;
const LIGHT = "#cccccc", DARK = "#808080", OUTLINE = "#a8a8a8";
const DASH_COLOR = "#06303c";
const TICK_LEN = 10;

function cmWidth(s: string, fs: number) {
  let w = 0;
  for (const ch of s) w += ch === "." ? 0.278 : ch === "−" ? 0.778 : 0.5;
  return w * fs;
}

function labelSpans(i: number, fs: number) {
  const sfs = fs * 0.7;
  const out: any[] = [
    <tspan key="m" fontStyle="italic">{LABEL_MAIN[i]}</tspan>,
    <tspan key="s" fontSize={sfs} dy={fs * 0.22}>{LABEL_SUB[i]}</tspan>,
  ];
  if (LABEL_SUP[i]) {
    out.push(
      <tspan key="p" fontSize={sfs} fontStyle={LABEL_SUP[i] === "x" ? "italic" : "normal"}
        dx={-sfs * 0.52} dy={-fs * 0.66}>{LABEL_SUP[i]}</tspan>
    );
  }
  return out;
}

export default function App() {
  const xs = DOMAINS.map((d, i) => d3.scaleLinear().domain(d).range([LEFT + i * CW, LEFT + (i + 1) * CW]));
  const ys = DOMAINS.map((d, j) => d3.scaleLinear().domain(d).range([TOP + (j + 1) * CH, TOP + j * CH]));
  const yDiag = (j: number) => d3.scaleLinear().domain([0, 1.1]).range([TOP + (j + 1) * CH, TOP + j * CH]);

  const closed = (r: number, c: number) =>
    d3.line<number[]>().x((p) => xs[c](p[0])).y((p) => ys[r](p[1])).curve(d3.curveCatmullRomClosed.alpha(0.5));
  const open = (r: number, c: number) =>
    d3.line<number[]>().x((p) => xs[c](p[0])).y((p) => ys[r](p[1]));

  const clipId = (r: number, c: number) => `clip-${r}-${c}`;
  const cells: { r: number; c: number }[] = [];
  for (let r = 0; r < N; r++) for (let c = 0; c <= r; c++) cells.push({ r, c });

  const ticks: any[] = [];
  cells.forEach(({ r, c }) => {
    const x0 = LEFT + c * CW, x1 = x0 + CW, y0 = TOP + r * CH, y1 = y0 + CH;
    TICKS[c].forEach((t, k) => {
      const x = xs[c](t);
      ticks.push(<line key={`tb-${r}-${c}-${k}`} x1={x} x2={x} y1={y1} y2={y1 - TICK_LEN} />);
      if (r !== c) ticks.push(<line key={`tt-${r}-${c}-${k}`} x1={x} x2={x} y1={y0} y2={y0 + TICK_LEN} />);
    });
    if (r !== c) {
      TICKS[r].forEach((t, k) => {
        const y = ys[r](t);
        ticks.push(<line key={`tl-${r}-${c}-${k}`} x1={x0} x2={x0 + TICK_LEN} y1={y} y2={y} />);
        ticks.push(<line key={`tr-${r}-${c}-${k}`} x1={x1} x2={x1 - TICK_LEN} y1={y} y2={y} />);
      });
    }
  });

  return (
    <svg width={W} height={H} viewBox={`0 0 ${W} ${H}`}
      style={{ position: "absolute", left: 0, top: 0, background: "#fff" }} fontFamily={FONT}>
      <rect x={0} y={0} width={W} height={H} fill="#fff" />
      <defs>
        {cells.map(({ r, c }) => (
          <clipPath key={clipId(r, c)} id={clipId(r, c)}>
            <rect x={LEFT + c * CW} y={TOP + r * CH} width={CW} height={CH} />
          </clipPath>
        ))}
      </defs>

      {/* 2D regions */}
      {PANELS.map((p) => (
        <g key={`p-${p.r}-${p.c}`} clipPath={`url(#${clipId(p.r, p.c)})`}>
          <path d={closed(p.r, p.c)(p.outer) || ""} fill={LIGHT} stroke={OUTLINE} strokeWidth={1.2} />
          <path d={closed(p.r, p.c)(p.inner) || ""} fill={DARK} stroke="none" />
        </g>
      ))}

      {/* fiducial relations */}
      {FID_LINES.map((f) => (
        <g key={`f-${f.r}-${f.c}`} clipPath={`url(#${clipId(f.r, f.c)})`}>
          <path d={open(f.r, f.c)(f.pts) || ""} fill="none" stroke={DASH_COLOR} strokeWidth={4}
            strokeDasharray="15.5,6.5" />
        </g>
      ))}

      {/* 1D marginals */}
      {PDFS.map((pdf, i) => (
        <g key={`d-${i}`} clipPath={`url(#${clipId(i, i)})`}>
          <path
            d={d3.line<number[]>().x((p) => xs[i](p[0])).y((p) => yDiag(i)(p[1])).curve(d3.curveCatmullRom.alpha(0.5))(pdf) || ""}
            fill="none" stroke="#7f7f7f" strokeWidth={4.5} strokeLinejoin="round" />
        </g>
      ))}

      {/* ticks */}
      <g stroke="#000" strokeWidth={2}>{ticks}</g>

      {/* frames */}
      <g fill="none" stroke="#000" strokeWidth={2}>
        {cells.map(({ r, c }) => (
          <rect key={`fr-${r}-${c}`} x={LEFT + c * CW} y={TOP + r * CH} width={CW} height={CH} />
        ))}
      </g>

      {/* vertical truth line for b1 */}
      <line x1={xs[0](TRUTH_B1)} x2={xs[0](TRUTH_B1)} y1={TOP} y2={BOTTOM}
        stroke={DASH_COLOR} strokeWidth={4} strokeDasharray="15.5,6.5" />

      {/* x tick labels and axis labels */}
      {DOMAINS.map((_, c) => (
        <g key={`xl-${c}`}>
          {TICKS[c].map((t, k) => (
            <text key={k} x={xs[c](t)} y={BOTTOM + 29} fontSize={TICK_FS} textAnchor="middle">
              {d3.format(TICK_FORMATS[c])(t)}
            </text>
          ))}
          <text x={LEFT + (c + 0.5) * CW} y={BOTTOM + 71} fontSize={LABEL_FS} textAnchor="middle">
            {labelSpans(c, LABEL_FS)}
          </text>
        </g>
      ))}

      {/* y tick labels and axis labels */}
      {DOMAINS.map((_, r) => {
        if (r === 0) return null;
        const labels = TICKS[r].map((t) => d3.format(TICK_FORMATS[r])(t));
        const maxW = Math.max(...labels.map((s) => cmWidth(s, TICK_FS)));
        const lx = LEFT - 10 - maxW - 18;
        const cy = TOP + (r + 0.5) * CH;
        return (
          <g key={`yl-${r}`}>
            {TICKS[r].map((t, k) => (
              <text key={k} x={LEFT - 10} y={ys[r](t)} fontSize={TICK_FS} textAnchor="end" dominantBaseline="central">
                {labels[k]}
              </text>
            ))}
            <text transform={`translate(${lx},${cy}) rotate(-90)`} fontSize={LABEL_FS} textAnchor="middle">
              {labelSpans(r, LABEL_FS)}
            </text>
          </g>
        );
      })}

      {/* title */}
      <text x={536} y={80} fontSize={60} fill="#808080" letterSpacing={1.5} style={{ whiteSpace: "pre" }}>
        <tspan fontStyle="italic">k</tspan>
        <tspan fontSize={42} dy={9}>max</tspan>
        <tspan dy={-9}>{" = 0.10 "}</tspan>
        <tspan fontStyle="italic">h</tspan>
        <tspan>{" Mpc"}</tspan>
        <tspan fontSize={42} dy={-24}>−1</tspan>
        <tspan dy={24}>{", "}</tspan>
        <tspan fontStyle="italic">χ</tspan>
        <tspan fontSize={42} dy={-26}>2</tspan>
        <tspan fontSize={42} dx={-21} dy={40}>red</tspan>
        <tspan dy={-14}>{" = 0.97"}</tspan>
      </text>
    </svg>
  );
}
